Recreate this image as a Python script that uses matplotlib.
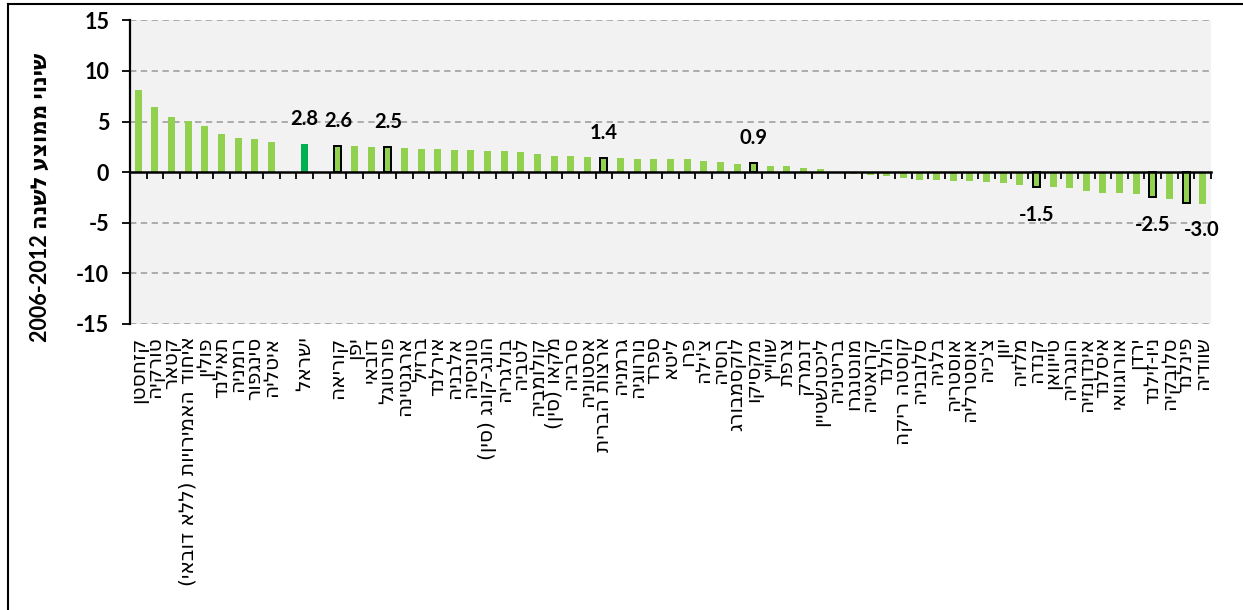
import numpy as np
import matplotlib
matplotlib.use("Agg")
import matplotlib.pyplot as plt
from matplotlib.lines import Line2D

# ---------------- data ----------------
countries = [
    "קזחסטן", "טורקיה", "קטאר", "איחוד האמירויות (ללא דובאי)", "פולין", "תאילנד",
    "רומניה", "סינגפור", "איטליה", "", "ישראל", "",
    "קוריאה", "יפן", "דובאי", "פורטוגל", "ארגנטינה", "ברזיל", "אירלנד", "אלבניה",
    "טוניסיה", "הונג-קונג (סין)", "בולגריה", "לטביה", "קולומביה", "מקאו (סין)",
    "סרביה", "אסטוניה", "ארצות הברית", "גרמניה", "נורווגיה", "ספרד", "ליטא", "פרו",
    "צ'ילה", "רוסיה", "לוקסמבורג", "מקסיקו", "שווייץ", "צרפת", "דנמרק", "ליכטנשטיין",
    "בריטניה", "מונטנגרו", "קרואטיה", "הולנד", "קוסטה ריקה", "סלובניה", "בלגיה",
    "אוסטריה", "אוסטרליה", "צ'כיה", "יוון", "מלזיה", "קנדה", "טייוואן", "הונגריה",
    "אינדונזיה", "איסלנד", "אורוגוואי", "ירדן", "ניו-זילנד", "סלובקיה", "פינלנד", "שוודיה",
]
values = [
    8.1, 6.4, 5.4, 5.1, 4.6, 3.8,
    3.4, 3.3, 3.0, None, 2.8, None,
    2.6, 2.55, 2.5, 2.5, 2.4, 2.3, 2.3, 2.2,
    2.15, 2.1, 2.05, 2.0, 1.75, 1.6,
    1.55, 1.45, 1.4, 1.4, 1.3, 1.3, 1.25, 1.25,
    1.1, 1.0, 0.85, 0.9, 0.65, 0.65, 0.4, 0.35,
    -0.1, -0.2, -0.3, -0.4, -0.6, -0.8, -0.8,
    -0.85, -0.9, -1.0, -1.1, -1.3, -1.5, -1.5, -1.6,
    -1.9, -2.1, -2.1, -2.15, -2.5, -2.7, -3.0, -3.1,
]
highlight_country = "ישראל"
outlined = ["קוריאה", "פורטוגל", "ארצות הברית", "מקסיקו", "קנדה", "ניו-זילנד", "פינלנד"]
labelled = ["ישראל"] + outlined
ylabel_text = "שינוי ממוצע לשנה 2006-2012"
yticks = [-15, -10, -5, 0, 5, 10, 15]

assert len(countries) == len(values)


def visual_rtl(s):
    """Reverse Hebrew string for LTR rendering and mirror parentheses."""
    out = s[::-1]
    out = out.translate(str.maketrans("()", ")("))
    return out


def visual_ylabel(s):
    heb, num = s.rsplit(" ", 1)
    return num + " " + heb[::-1]


LIGHT = "#92D050"
DARK = "#00B050"

W, H = 1243, 610
fig = plt.figure(figsize=(W / 100, H / 100), dpi=100)
fig.patch.set_facecolor("white")

ax_l, ax_r, ax_t, ax_b = 130, 1211, 20.3, 324
ax = fig.add_axes([ax_l / W, 1 - ax_b / H, (ax_r - ax_l) / W, (ax_b - ax_t) / H])
ax.set_facecolor("#F2F2F2")

n = len(countries)
for i, (c, v) in enumerate(zip(countries, values)):
    if v is None:
        continue
    color = DARK if c == highlight_country else LIGHT
    if c in outlined:
        ax.bar(i, v, width=0.42, color=color, edgecolor="black", linewidth=1.4, zorder=3)
    else:
        ax.bar(i, v, width=0.42, color=color, edgecolor="none", zorder=3)

# data labels
for i, (c, v) in enumerate(zip(countries, values)):
    if c in labelled and v is not None:
        dx = 11.5 if c == "פינלנד" else 0
        dy = 18 if v > 0 else -20
        ax.annotate(f"{v:.1f}", xy=(i, v), xytext=(dx, dy), textcoords="offset points",
                    ha="center", va="center", fontsize=14.5, fontweight="bold",
                    family=["Lato", "DejaVu Sans"], color="black", zorder=5)

ax.set_xlim(-0.5, n - 0.5)
ax.set_ylim(-15, 15)
ax.set_yticks(yticks)
ax.set_yticklabels([str(t) for t in yticks], fontsize=15.5, fontweight="bold",
                   family=["Lato", "DejaVu Sans"])
ax.tick_params(axis="y", length=6, width=1.3, direction="out", pad=9, color="black")

# grid lines
for t in yticks:
    if t != 0:
        ax.axhline(t, color="#A6A6A6", lw=1.3, ls=(0, (3.5, 2.5)), zorder=1)

for s in ["top", "right"]:
    ax.spines[s].set_visible(False)
ax.spines["bottom"].set_position(("data", 0))
ax.spines["bottom"].set_linewidth(1.8)
ax.spines["bottom"].set_zorder(4)
ax.spines["left"].set_linewidth(1.6)
ax.set_xticks(np.arange(n + 1) - 0.5)
ax.set_xticklabels([])
ax.tick_params(axis="x", length=5, width=1.3, direction="out", color="black")

# category labels, rotated, hanging below the plot area
for i, c in enumerate(countries):
    if not c:
        continue
    ax.annotate(visual_rtl(c), xy=(i, 0), xycoords=("data", "axes fraction"),
                xytext=(0, -9), textcoords="offset points", rotation=90,
                ha="center", va="top", fontsize=14.5, family=["DejaVu Sans"],
                color="black", annotation_clip=False)

# y label
fig.text(40 / W, 1 - 197 / H, visual_ylabel(ylabel_text), rotation=90,
         ha="center", va="center", fontsize=15.5, fontweight="bold",
         family=["Lato", "DejaVu Sans"])

# outer frame (cropped)
fig.add_artist(Line2D([7.5 / W, 7.5 / W], [0, 1 - 3.5 / H], transform=fig.transFigure,
                      color="black", lw=1.5))
fig.add_artist(Line2D([7.5 / W, 1], [1 - 3.5 / H, 1 - 3.5 / H], transform=fig.transFigure,
                      color="black", lw=1.5))

fig.savefig("out.png", dpi=100, facecolor="white")
